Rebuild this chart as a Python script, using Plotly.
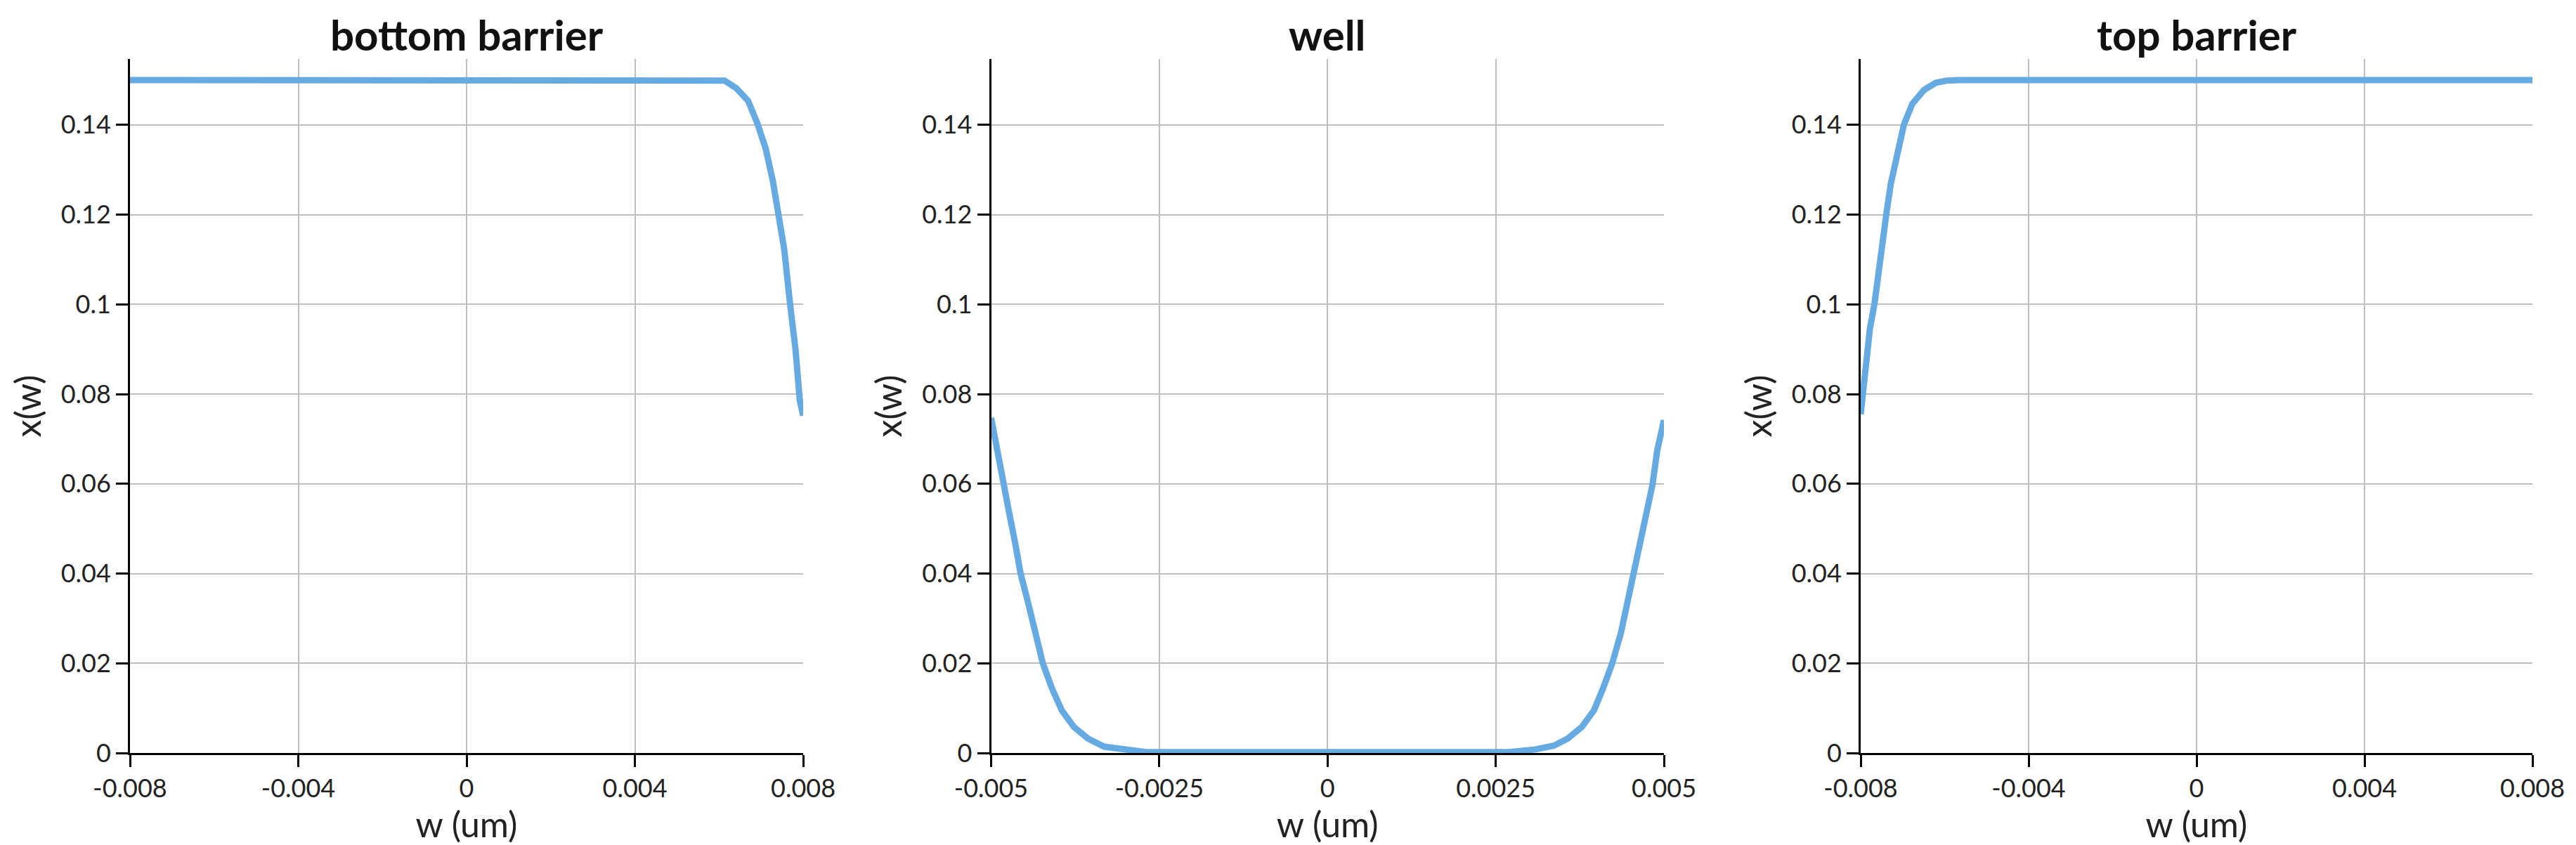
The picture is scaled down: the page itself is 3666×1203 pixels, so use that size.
import plotly.graph_objects as go

# bottom barrier: x(w) vs w (um)
bottom_w = [-0.008, 0.0057, 0.00613, 0.00641, 0.00669, 0.00691, 0.00711, 0.00728,
            0.00742, 0.00755, 0.00769, 0.00782, 0.00792, 0.008]
bottom_x = [0.150, 0.150, 0.1499, 0.1482, 0.1454, 0.1404, 0.1347, 0.1275,
            0.120, 0.1123, 0.100, 0.0898, 0.0786, 0.0752]

# well
well_w = [-0.005, -0.0049, -0.00482, -0.00473, -0.00464, -0.00456, -0.00445, -0.00435,
          -0.00423, -0.00409, -0.00395, -0.00377, -0.00356, -0.00332, -0.00304, -0.00287,
          -0.0027, 0.0027,
          0.00291, 0.00309, 0.00336, 0.00357, 0.00378, 0.00396, 0.00409, 0.00423,
          0.00436, 0.00446, 0.00455, 0.00465, 0.00474, 0.00483, 0.0049, 0.005]
well_x = [0.0747, 0.0674, 0.0598, 0.0534, 0.0466, 0.0399, 0.0335, 0.0267,
          0.0199, 0.0142, 0.0095, 0.0058, 0.0032, 0.0014, 0.0007, 0.0004,
          0.0002, 0.0002,
          0.0004, 0.0008, 0.0016, 0.0032, 0.0058, 0.0095, 0.0142, 0.0199,
          0.0267, 0.0335, 0.0399, 0.0466, 0.0534, 0.0598, 0.0674, 0.0742]

# top barrier
top_w = [-0.008, -0.00786, -0.00778, -0.00767, -0.00758, -0.00747, -0.00739, -0.00728,
         -0.00713, -0.00697, -0.00677, -0.00649, -0.00621, -0.00594, -0.00566, 0.008]
top_x = [0.0755, 0.0868, 0.0946, 0.1002, 0.1076, 0.1155, 0.1201, 0.1270,
         0.1342, 0.1401, 0.1447, 0.1478, 0.1494, 0.1499, 0.150, 0.150]

titles = ["bottom barrier", "well", "top barrier"]
barrier_ticks = [-0.008, -0.004, 0, 0.004, 0.008]
barrier_labels = ["-0.008", "-0.004", "0", "0.004", "0.008"]
well_ticks = [-0.005, -0.0025, 0, 0.0025, 0.005]
well_labels = ["-0.005", "-0.0025", "0", "0.0025", "0.005"]
y_ticks = [0, 0.02, 0.04, 0.06, 0.08, 0.1, 0.12, 0.14]
y_labels = ["0", "0.02", "0.04", "0.06", "0.08", "0.1", "0.12", "0.14"]

W, H = 3666, 1203
line_color = "#66aae2"
font = "Lato"

panels = [
    (bottom_w, bottom_x, [-0.008, 0.008], barrier_ticks, barrier_labels, (177, 1135)),
    (well_w, well_x, [-0.005, 0.005], well_ticks, well_labels, (1402.5, 2360)),
    (top_w, top_x, [-0.008, 0.008], barrier_ticks, barrier_labels, (2640, 3596)),
]

fig = go.Figure()
layout = dict(width=W, height=H, margin=dict(l=0, r=0, t=0, b=0, autoexpand=False),
              paper_bgcolor="white", plot_bgcolor="white", showlegend=False,
              font=dict(family=font, color="#222"))
y_dom = [1 - 1064 / H, 1 - 76 / H]

for i, (w, x, xr, tv, tt, (x0, x1)) in enumerate(panels):
    n = "" if i == 0 else str(i + 1)
    fig.add_trace(go.Scatter(x=w, y=x, mode="lines", xaxis="x" + n, yaxis="y" + n,
                             line=dict(color=line_color, width=9), hoverinfo="skip"))
    axis_common = dict(showline=True, linecolor="black", linewidth=3, automargin=False,
                       ticks="outside", ticklen=17, tickwidth=3, tickcolor="black",
                       showgrid=True, gridcolor="#bebebe", gridwidth=2, zeroline=False,
                       tickfont=dict(size=36, family=font, color="#222"))
    layout["xaxis" + n] = dict(axis_common, domain=[x0 / W, x1 / W], range=xr,
                               tickmode="array", tickvals=tv, ticktext=tt,
                               anchor="y" + n,
                               title=dict(text="w (um)", standoff=6,
                                          font=dict(size=50, family=font, color="#222")))
    layout["yaxis" + n] = dict(axis_common, domain=y_dom, range=[0, 0.1547],
                               tickmode="array", tickvals=y_ticks, ticktext=y_labels,
                               anchor="x" + n,
                               title=dict(text="x(w)", standoff=13,
                                          font=dict(size=50, family=font, color="#222")))
    fig.add_annotation(text="<b>" + titles[i] + "</b>", xref="paper", yref="paper",
                       x=(x0 + x1) / 2 / W, y=1 - 41 / H, xanchor="center", yanchor="middle",
                       showarrow=False, font=dict(size=60, family=font, color="#111"))

fig.update_layout(**layout)
fig.write_html("out.html")
